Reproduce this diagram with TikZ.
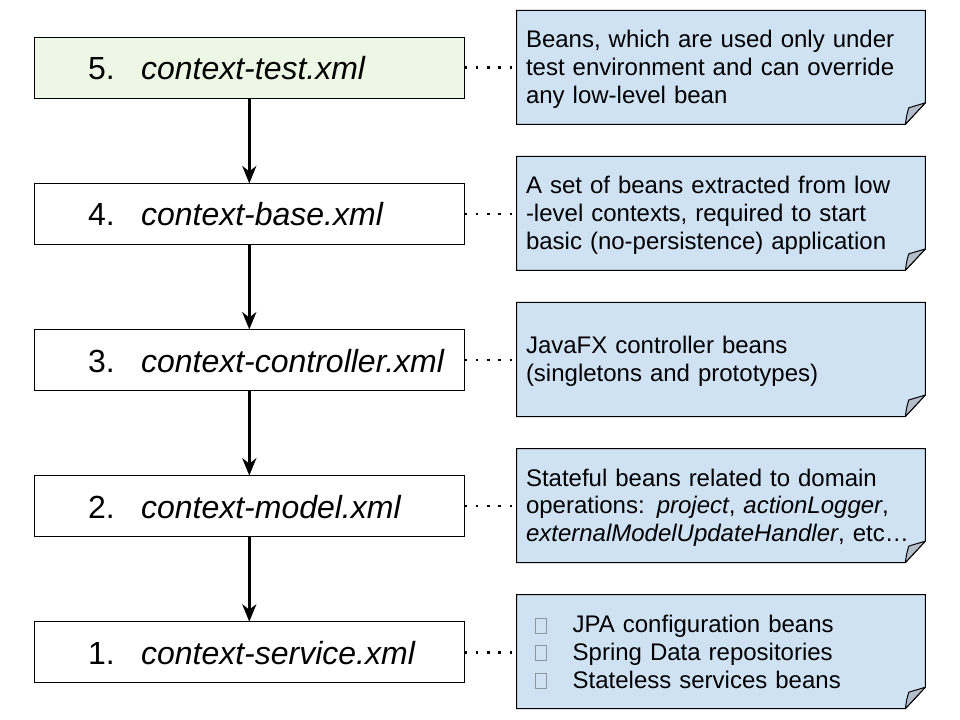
\documentclass[tikz,border=0pt]{standalone}
\usepackage{fontspec}
\setmainfont{Liberation Sans}
\usetikzlibrary{arrows.meta,backgrounds}
\definecolor{noteblue}{HTML}{CFE2F3}
\definecolor{testgreen}{HTML}{EDF7E6}
\definecolor{foldgray}{HTML}{B3BECA}
\definecolor{tofugray}{HTML}{8A98A6}
\newcommand\notepaper[1]{%
  \filldraw[fill=noteblue, draw=black, line width=0.75pt, line join=miter]
    (#1.north west) -- (#1.north east) -- ([yshift=16.1pt]#1.south east)
    -- ([xshift=-15pt]#1.south east) -- (#1.south west) -- cycle;
  \filldraw[fill=foldgray, draw=black, line width=0.75pt, line join=round]
    ([xshift=-15pt]#1.south east) .. controls ([xshift=-14pt,yshift=7pt]#1.south east) ..
    ([xshift=-12.4pt,yshift=12.4pt]#1.south east) -- ([yshift=16.1pt]#1.south east) -- cycle;}
\newcommand\bul{\makebox[35pt][l]{\hspace*{6.75pt}{\color{tofugray}\setlength\fboxrule{0.6pt}\setlength\fboxsep{0pt}\fbox{\rule{0pt}{10.6pt}\rule{7.8pt}{0pt}}}}}
\newcommand\nt[1]{\rule{0pt}{16.2pt}#1\rule[-3.3pt]{0pt}{3.3pt}}
\begin{document}
\begin{tikzpicture}[x=0.75pt,y=-0.75pt,
  ctx/.style={draw=black, line width=0.75pt, fill=white, rectangle,
    minimum height=45.75pt, text width=320.5pt, inner xsep=1pt, inner ysep=0pt,
    align=left, outer sep=0pt, font=\fontsize{24}{28}\selectfont},
  notebox/.style={rectangle, inner xsep=7pt, inner ysep=0pt, text width=292.5pt,
    minimum height=85.5pt, align=left, outer sep=0pt,
    font=\fontsize{18}{20.8}\selectfont},
  flow/.style={line width=2.25pt, -{Stealth[length=13pt, width=10.5pt, inset=4pt]}},
  dotline/.style={line width=2pt, dash pattern=on 2pt off 6.5pt}
]
\useasboundingbox (0,0) rectangle (960,720);
\newcommand\lab[2]{\rule{0pt}{18.3pt}\hspace*{39.3pt}\makebox[39.75pt][l]{#1}\textit{#2}}

\node[ctx, fill=testgreen] (b5) at (249.3,67.8) {\lab{5.}{context-test.xml}};
\node[ctx] (b4) at (249.3,213.9) {\lab{4.}{context-base.xml}};
\node[ctx] (b3) at (249.3,360.0) {\lab{3.}{context-controller.xml}};
\node[ctx] (b2) at (249.3,506.1) {\lab{2.}{context-model.xml}};
\node[ctx] (b1) at (249.3,652.2) {\lab{1.}{context-service.xml}};

\node[notebox] (n5) at (721,67.3) {\nt{Beans, which are used only under\\test environment and can override\\any low-level bean}};
\node[notebox] (n4) at (721,213.4) {\nt{A set of beans extracted from low\\-level contexts, required to start\\basic (no-persistence) application}};
\node[notebox] (n3) at (721,359.5) {\nt{JavaFX controller beans\\(singletons and prototypes)}};
\node[notebox] (n2) at (721,505.6) {\nt{Stateful beans related to domain\\operations: \textit{project}, \textit{actionLogger},\\\textit{externalModelUpdateHandler}, etc…}};
\node[notebox] (n1) at (721,651.7) {\nt{\bul JPA configuration beans\\\bul Spring Data repositories\\\bul Stateless services beans}};

\begin{scope}[on background layer]
  \fill[white] (0,0) rectangle (960,720);
  \notepaper{n5}\notepaper{n4}\notepaper{n3}\notepaper{n2}\notepaper{n1}
\end{scope}

\draw[flow] (b5) -- (b4);
\draw[flow] (b4) -- (b3);
\draw[flow] (b3) -- (b2);
\draw[flow] (b2) -- (b1);

\draw[dotline] (b5.east) -- (b5.east -| n5.west);
\draw[dotline] (b4.east) -- (b4.east -| n4.west);
\draw[dotline] (b3.east) -- (b3.east -| n3.west);
\draw[dotline] (b2.east) -- (b2.east -| n2.west);
\draw[dotline] (b1.east) -- (b1.east -| n1.west);
\end{tikzpicture}
\end{document}
